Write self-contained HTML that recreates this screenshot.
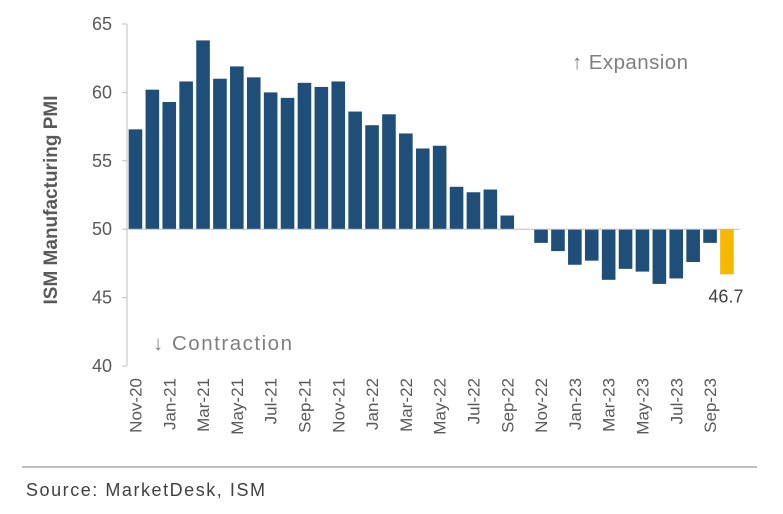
<!DOCTYPE html>
<html><head><meta charset="utf-8"><style>
body{margin:0;background:#fff;width:783px;height:509px;overflow:hidden;font-family:"Liberation Sans",sans-serif}
</style></head><body>
<svg width="783" height="509">
<g id="bars"></g>
<g id="axes"></g>
<text x="0" y="0" transform="translate(57,200) rotate(-90)" text-anchor="middle" font-size="19" font-weight="bold" fill="#595959">ISM Manufacturing PMI</text>
<text x="572" y="69" font-size="20.5" fill="#7f7f7f" textLength="116">↑ Expansion</text>
<text x="153" y="350" font-size="20.5" fill="#7f7f7f" textLength="139">↓ Contraction</text>
<line x1="22" y1="467" x2="757" y2="467" stroke="#bfbfbf" stroke-width="2"/>
<text x="26" y="496" font-size="18" fill="#404040" textLength="239">Source: MarketDesk, ISM</text>
</svg>
<script>
const categories=["Nov-20","Dec-20","Jan-21","Feb-21","Mar-21","Apr-21","May-21","Jun-21","Jul-21","Aug-21","Sep-21","Oct-21","Nov-21","Dec-21","Jan-22","Feb-22","Mar-22","Apr-22","May-22","Jun-22","Jul-22","Aug-22","Sep-22","Oct-22","Nov-22","Dec-22","Jan-23","Feb-23","Mar-23","Apr-23","May-23","Jun-23","Jul-23","Aug-23","Sep-23","Oct-23"];
const values=[57.3,60.2,59.3,60.8,63.8,61.0,61.9,61.1,60.0,59.6,60.7,60.4,60.8,58.6,57.6,58.4,57.0,55.9,56.1,53.1,52.7,52.9,51.0,50.0,49.0,48.4,47.4,47.7,46.3,47.1,46.9,46.0,46.4,47.6,49.0,46.7];
const yTicks=[40,45,50,55,60,65];
const baseline=50;
const NS="http://www.w3.org/2000/svg";
const x0=127,slot=16.9,yTop=24,yBot=366,yMin=40,yMax=65;
const y=v=>yBot-(v-yMin)/(yMax-yMin)*(yBot-yTop);
const xc=i=>x0+slot*(i+0.5);
const bars=document.getElementById('bars'),axes=document.getElementById('axes');
function mk(tag,attrs,parent){const e=document.createElementNS(NS,tag);for(const k in attrs)e.setAttribute(k,attrs[k]);parent.appendChild(e);return e;}
values.forEach((v,i)=>{
 const last=i===values.length-1;
 const r=mk('rect',{x:xc(i)-6.8,width:13.6,y:Math.min(y(v),y(baseline)),height:Math.abs(y(v)-y(baseline)),fill:last?'#f5b800':'#1f4e79'},bars);
 
 
 if(last){const t=mk('text',{x:xc(i)-1,y:y(v)+28,'text-anchor':'middle','font-size':18,fill:'#404040'},bars);t.textContent=v.toFixed(1);
 
 }
});
const ax=mk('line',{x1:x0,x2:x0,y1:yTop,y2:yBot,stroke:'#bfbfbf','stroke-width':1},axes);


const bl=mk('line',{x1:x0,x2:x0+slot*36+4,y1:y(baseline),y2:y(baseline),stroke:'#bfbfbf','stroke-width':1},axes);


yTicks.forEach(t=>{
 const tk=mk('line',{x1:x0-5,x2:x0,y1:y(t),y2:y(t),stroke:'#bfbfbf'},axes);
 
 
 const l=mk('text',{x:x0-15,y:y(t)+6,'text-anchor':'end','font-size':18,fill:'#595959'},axes);l.textContent=t;
 
 
});
categories.forEach((c,i)=>{
 if(i%2)return;
 const l=mk('text',{transform:`translate(${xc(i)+6},${y(yMin)+12}) rotate(-90)`,'text-anchor':'end','font-size':17,fill:'#595959'},axes);l.textContent=c;
 
 
});
</script>
</body></html>
